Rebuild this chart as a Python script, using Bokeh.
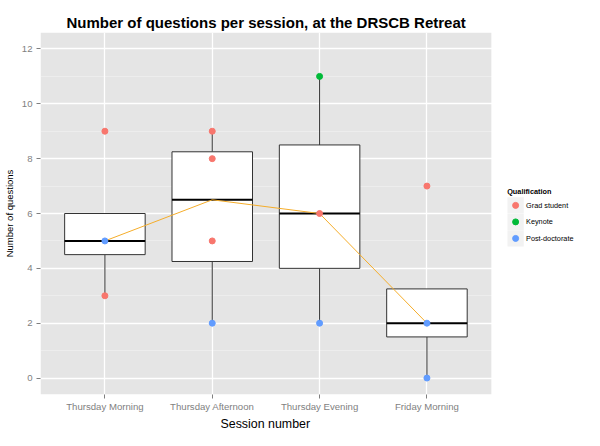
from bokeh.plotting import figure
from bokeh.models import (ColumnDataSource, FixedTicker, Range1d, BoxAnnotation, Title)
from bokeh.embed import file_html
from bokeh.resources import INLINE
from bokeh.core.properties import value

# ---- data ----
sessions = ["Thursday Morning", "Thursday Afternoon", "Thursday Evening", "Friday Morning"]
q1 = [4.5, 4.25, 4.0, 1.5]
medians = [5.0, 6.5, 6.0, 2.0]
q3 = [6.0, 8.25, 8.5, 3.25]
whisker_lo = [3.0, 2.0, 2.0, 0.0]
whisker_hi = [6.0, 9.0, 11.0, 3.25]

point_session = ["Thursday Morning", "Thursday Morning", "Thursday Morning",
                 "Thursday Afternoon", "Thursday Afternoon", "Thursday Afternoon", "Thursday Afternoon",
                 "Thursday Evening", "Thursday Evening", "Thursday Evening",
                 "Friday Morning", "Friday Morning", "Friday Morning"]
point_value = [9, 3, 5,
               9, 8, 5, 2,
               11, 6, 2,
               7, 2, 0]
point_qual = ["Grad student", "Grad student", "Post-doctorate",
              "Grad student", "Grad student", "Grad student", "Post-doctorate",
              "Keynote", "Grad student", "Post-doctorate",
              "Grad student", "Post-doctorate", "Post-doctorate"]
qualifications = ["Grad student", "Keynote", "Post-doctorate"]
qual_colors = ["#F8766D", "#00BA38", "#619CFF"]
y_ticks = [0, 2, 4, 6, 8, 10, 12]
y_minor = [-1, 1, 3, 5, 7, 9, 11]

FONT = "Liberation Sans"

# session positions on a numeric axis (1..n)
xpos = list(range(1, len(sessions) + 1))
sx = {s: i for s, i in zip(sessions, xpos)}

# ---- layout constants (pixels) ----
W, H = 584, 430
LEFT = 35                 # frame left
PX_PER_X = 108.33         # pixels per session step
X0 = 0.4                  # panel left in data units
X1 = len(sessions) + 0.6  # panel right in data units
X_END = X0 + (W - LEFT) / PX_PER_X

p = figure(x_range=Range1d(X0, X_END), y_range=Range1d(-0.6, 12.6),
           width=W, height=H, output_backend="svg", toolbar_location=None,
           min_border_left=LEFT, min_border_right=0, min_border_top=32, min_border_bottom=0)

p.title.text = "Number of questions per session, at the DRSCB Retreat"
p.title.text_font = FONT
p.title.text_font_size = "11.25pt"
p.title.text_font_style = "bold"
p.title.align = "left"
p.title.offset = 26
p.title.text_color = "black"
p.title.standoff = 4

p.background_fill_color = "white"
p.border_fill_color = "white"
p.outline_line_color = None

# grey panel behind the grid
panel = BoxAnnotation(left=X0, right=X1, fill_color="#E5E5E5", fill_alpha=1,
                      line_color=None, level="image")
p.add_layout(panel)

p.xgrid.grid_line_color = "white"
p.xgrid.grid_line_width = 1.3
p.ygrid.grid_line_color = "white"
p.ygrid.grid_line_width = 1.3
p.ygrid.minor_grid_line_color = "white"
p.ygrid.minor_grid_line_alpha = 0.45
p.ygrid.minor_grid_line_width = 0.7

p.xaxis.ticker = FixedTicker(ticks=xpos)
p.xaxis.major_label_overrides = {i: s for s, i in sx.items()}
p.yaxis.ticker = FixedTicker(ticks=y_ticks, minor_ticks=y_minor)
for ax in (p.xaxis[0], p.yaxis[0]):
    ax.axis_line_color = None
    ax.major_tick_line_color = "#7F7F7F"
    ax.major_tick_out = 4
    ax.major_tick_in = 0
    ax.minor_tick_line_color = None
    ax.major_label_text_color = "#7F7F7F"
    ax.major_label_text_font = FONT
    ax.major_label_text_font_size = "9.6px"
    ax.major_label_standoff = 2
p.xaxis.axis_label_standoff = 0
p.yaxis.major_label_standoff = 4
p.yaxis.axis_label = "Number of questions"
p.yaxis.axis_label_text_font = FONT
p.yaxis.axis_label_text_font_size = "9.5px"
p.yaxis.axis_label_text_font_style = "normal"
p.yaxis.axis_label_text_color = "black"
p.yaxis.axis_label_standoff = 4

p.add_layout(Title(text="Session number", align="left", offset=180,
                   text_font=FONT, text_font_size="12.4px", text_font_style="normal",
                   text_color="black", standoff=0), "below")

# ---- boxes ----
bsrc = ColumnDataSource(dict(x=xpos, q1=q1, med=medians, q3=q3, lo=whisker_lo, hi=whisker_hi))
p.segment(x0="x", y0="q3", x1="x", y1="hi", source=bsrc, line_color="#333333", line_width=1)
p.segment(x0="x", y0="lo", x1="x", y1="q1", source=bsrc, line_color="#333333", line_width=1)
p.vbar(x="x", bottom="q1", top="q3", width=0.75, source=bsrc,
       fill_color="white", line_color="#333333", line_width=1)
p.vbar(x="x", bottom="med", top="med", width=0.75, source=bsrc,
       fill_color=None, line_color="black", line_width=2)

# ---- median line ----
p.line(x=xpos, y=medians, line_color="#F5AD2A", line_width=1)

# ---- points ----
psrc = ColumnDataSource(dict(x=[sx[s] for s in point_session], v=point_value,
                             c=[qual_colors[qualifications.index(q)] for q in point_qual]))
p.scatter(x="x", y="v", source=psrc, size=6, fill_color="c", line_color="c", marker="circle")

# ---- legend, drawn in the white area right of the panel ----
def lx(px_from_panel):            # pixels right of panel edge -> data x
    return X1 + px_from_panel / PX_PER_X

Y_PER_PX = 13.2 / 379.0
def ly(px_from_top):              # pixels below panel top -> data y
    return 12.6 - px_from_top * Y_PER_PX

title_top_px = 166.0
row_px = 17.3
key_rows = [ly(title_top_px + 15.0 + i * row_px) for i in range(len(qualifications))]
p.text(x=[lx(16)], y=[ly(title_top_px)], text=["Qualification"], text_font=value(FONT),
       text_font_size="7.3px", text_font_style="bold", text_baseline="middle",
       text_color="black")
p.scatter(x=[lx(24.5)] * len(qualifications), y=key_rows, marker="square", size=16.3,
          fill_color="#F2F2F2", line_color=None)
p.scatter(x=[lx(24.5)] * len(qualifications), y=key_rows, size=6, fill_color=qual_colors,
          line_color=qual_colors, marker="circle")
p.text(x=[lx(35)] * len(qualifications), y=key_rows, text=qualifications, text_font=value(FONT),
       text_font_size="7.3px", text_baseline="middle", text_color="black")

open("out.html", "w").write(file_html(p, INLINE))
